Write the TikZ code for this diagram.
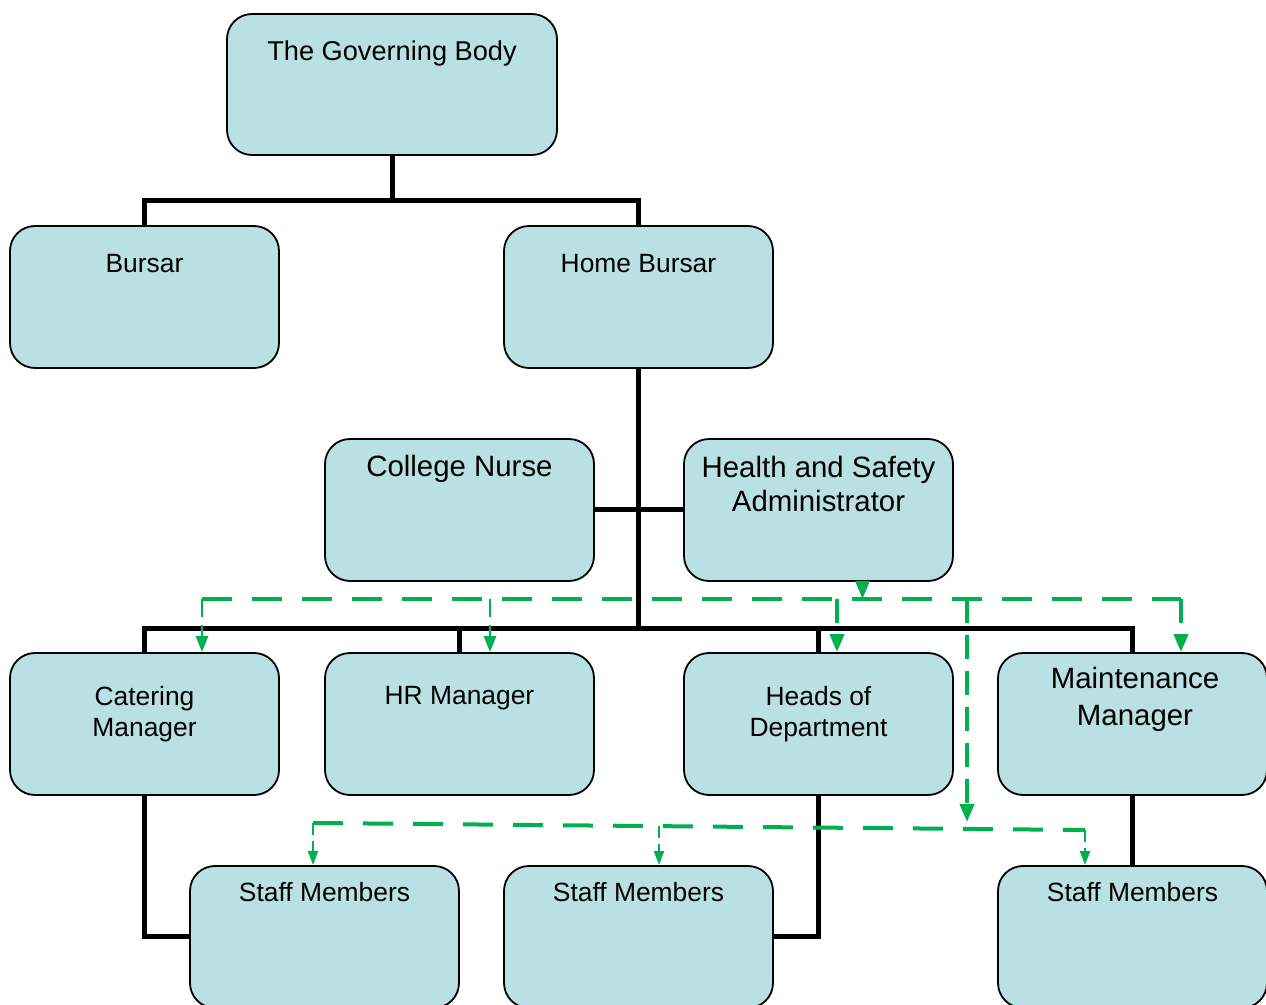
\documentclass[tikz,border=0pt]{standalone}
\usepackage{fontspec}
\setmainfont{Liberation Sans}
\usetikzlibrary{arrows.meta}
\definecolor{boxfill}{RGB}{185,224,227}
\definecolor{dgreen}{RGB}{0,176,80}
\begin{document}
\begin{tikzpicture}[x=0.5pt,y=-0.5pt,
  box/.style={draw=black, line width=0.9pt, fill=boxfill, rounded corners=12.5pt,
    minimum width=134.5pt, minimum height=71pt, inner sep=0pt},
  txt/.style={align=center, inner sep=0pt, font=\fontsize{13.2}{15.5}\selectfont},
  bigtxt/.style={align=center, inner sep=0pt, font=\fontsize{14.7}{17}\selectfont},
  conn/.style={draw=black, line width=2.5pt},
  gbus/.style={draw=dgreen, line width=2pt, dash pattern=on 15pt off 10pt},
  gdrop/.style={draw=dgreen, line width=2pt, dash pattern=on 12pt off 6pt, -{Triangle[length=9pt,width=7pt]}},
  gthin/.style={draw=dgreen, line width=1.4pt, dash pattern=on 9pt off 4pt, -{Triangle[length=8pt,width=6pt]}},
  gsmall/.style={draw=dgreen, line width=1.1pt, dash pattern=on 6pt off 3pt, -{Triangle[length=7pt,width=5pt]}}
]
\useasboundingbox (0,0) rectangle (1266,1005);
\clip (0,0) rectangle (1266,1005);

% boxes
\node[box, minimum width=165pt, minimum height=70.5pt] (gov) at (392,84.5) {};
\node[box] (bursar) at (144.5,297) {};
\node[box] (home) at (638.5,297) {};
\node[box] (nurse) at (459.5,510) {};
\node[box] (hs) at (818.5,510) {};
\node[box] (cat) at (144.5,724) {};
\node[box] (hr) at (459.5,724) {};
\node[box] (heads) at (818.5,724) {};
\node[box] (maint) at (1132.5,724) {};
\node[box] (staffa) at (324.5,937) {};
\node[box] (staffb) at (638.5,937) {};
\node[box] (staffc) at (1132.5,937) {};

% texts
\node[txt, font=\fontsize{13.6}{16}\selectfont] (govt) at (392,53.5) {The Governing Body};
\node[txt] (bursart) at (144.5,263.5) {Bursar};
\node[txt] (homet) at (638.5,263.5) {Home Bursar};
\node[bigtxt] (nurset) at (459.5,468.5) {College Nurse};
\node[bigtxt] (hst) at (818.5,484) {Health and Safety\\Administrator};
\node[txt] (catt) at (144.5,714) {Catering\\Manager};
\node[txt] (hrt) at (459.5,698.5) {HR Manager};
\node[txt] (headst) at (818.5,714) {Heads of\\Department};
\node[bigtxt, font=\fontsize{14.7}{18.5}\selectfont] (maintt) at (1135,699.5) {Maintenance\\Manager};
\node[txt] (staffat) at (324.5,892.5) {Staff Members};
\node[txt] (staffbt) at (638.5,892.5) {Staff Members};
\node[txt] (staffct) at (1132.5,892.5) {Staff Members};

% black connectors
\draw[conn] (gov.south) -- ++(0,46);
\draw[conn] (bursar.north) -- ++(0,-25) -| (home.north);
\draw[conn] (home.south) -- ++(0,261);
\draw[conn] (nurse.east) -- (hs.west);
\draw[conn] (cat.north) -- ++(0,-24) -| (maint.north);
\draw[conn] (hr.north) -- ++(0,-24);
\draw[conn] (heads.north) -- ++(0,-24);
\draw[conn] (cat.south) |- (staffa.west);
\draw[conn] (heads.south) |- (staffb.east);
\draw[conn] (maint.south) -- (staffc.north);

% green dashed lines
\coordinate (ga) at (202,599);
\coordinate (gb) at (490,599);
\coordinate (gc) at (837,599);
\coordinate (gd) at (967,599);
\coordinate (ge) at (1181,599);
\coordinate (gde) at (967,822);
\coordinate (la) at (313,823);
\coordinate (lb) at (659,826);
\coordinate (lc) at (1085,830);

\draw[draw=dgreen, line width=1.6pt, -{Triangle[length=9pt,width=7pt]}] ([xshift=22pt]hs.south) -- ++(0,17);
\draw[gbus] (ga) -- (ge);
\draw[gthin] (ga) -- (ga |- cat.north);
\draw[gthin] (gb) -- (gb |- hr.north);
\draw[gdrop] (gc) -- (gc |- heads.north);
\draw[gdrop] (ge) -- (ge |- maint.north);
\draw[gdrop] (gd) -- (gde);
\draw[gbus] (la) -- (lc);
\draw[gsmall] (la) -- (la |- staffa.north);
\draw[gsmall] (lb) -- (lb |- staffb.north);
\draw[gsmall] (lc) -- (lc |- staffc.north);
\end{tikzpicture}
\end{document}
